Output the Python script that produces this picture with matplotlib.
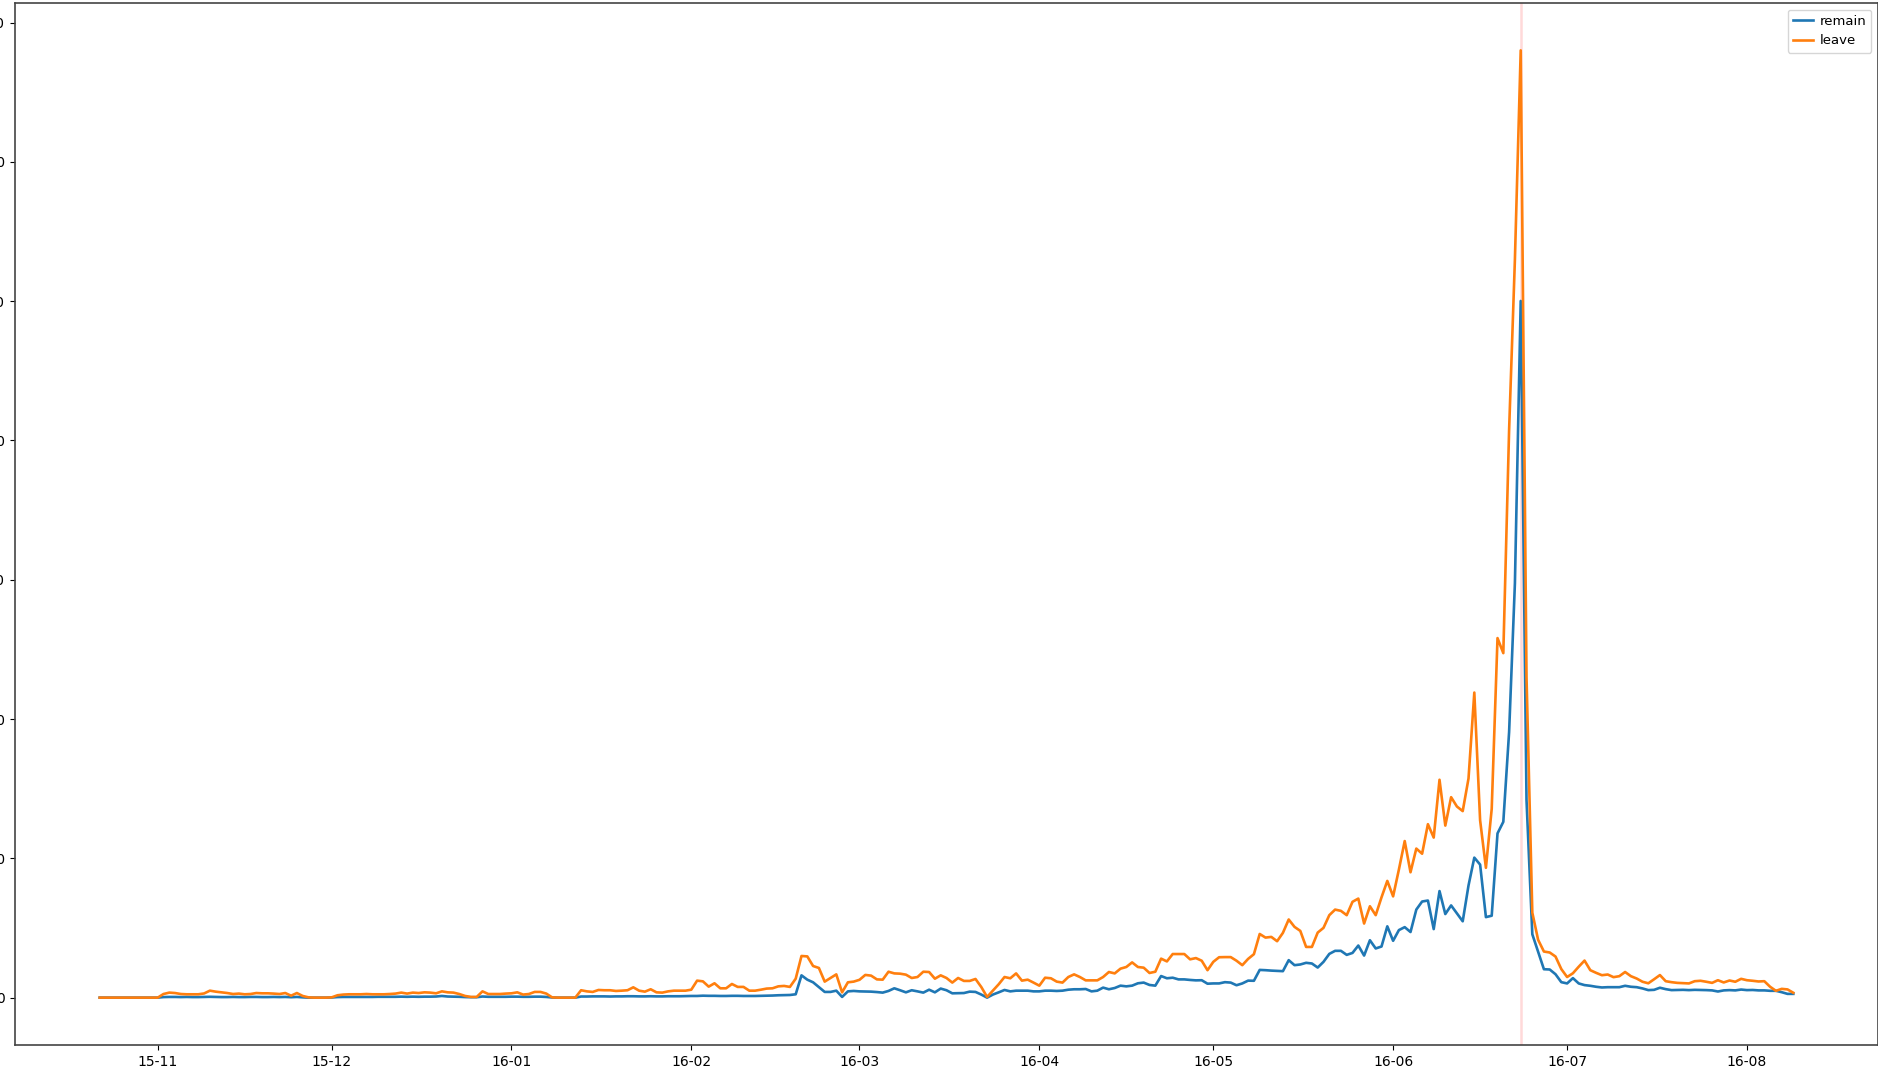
import matplotlib
matplotlib.use('Agg')
import matplotlib.pyplot as plt
import matplotlib.dates as mdates
import pandas as pd

# daily counts, one value per day starting at start_date
start_date = '2015-10-22'
vote_date = '2016-06-23'

remain = [
    0, 0, 0, 0, 0, 0, 0, 0, 0, 0, 0,                      # 22 Oct - 1 Nov
    4, 5, 5, 4, 5, 4, 4, 5, 6, 5, 4, 4, 5, 4, 4, 5, 5, 4, 4, 5, 4, 5, 3, 5, 2,
    0, 0, 0, 0, 1,
    4, 5, 5, 5, 5, 5, 5, 6, 6, 6, 6, 7, 6, 7, 6, 7, 7, 8, 12, 8, 7, 6, 4, 3, 3,
    8, 6, 6, 6, 6, 7, 7, 6, 6, 7, 7, 5,
    1, 0, 0, 0, 0,
    8, 8, 9, 9, 9, 8, 9, 9, 10, 10, 9, 9, 10, 9, 9, 10, 10, 10,
    11, 12, 12, 14, 13, 13, 12, 12, 13, 13, 12, 12, 12, 13, 14, 15, 17, 18, 19,
    24, 160, 129, 110, 76, 41, 41, 50, 5, 45, 48,
    45, 44, 43, 40, 36, 48, 67, 53, 38, 53,
    45, 36, 57, 38, 65, 53, 31, 32, 33, 43,
    41, 22, 0, 22, 38, 55, 45, 50, 50, 50,
    45, 45, 50, 50, 48, 50, 57, 60, 60, 62,
    45, 50, 72, 60, 69, 86, 81, 86, 103, 108,
    91, 86, 155, 139, 143, 131, 131, 127, 124,
    125, 100, 102, 102, 111, 108, 89, 102, 122, 121,
    199, 197, 194, 192, 190, 269, 233, 238, 250, 245,
    216, 257, 314, 336, 336, 307, 321, 374, 302, 412,
    353, 367, 512, 408, 485, 506, 471, 632, 690, 697,
    492, 765, 600, 662, 605, 548, 805, 1005, 955, 578,
    588, 1179, 1262, 1907, 2975, 5001,
    1420, 455, 329, 204, 202, 168, 111, 102, 140, 102,
    90, 85, 78, 73, 75, 75, 75, 85, 78, 75,
    66, 54, 56, 71, 61, 54, 55, 56, 54, 56,
    55, 54, 52, 44, 52, 54, 52, 58, 54, 55,
    52, 52, 49, 49, 39, 27, 27,
]

leave = [
    0, 0, 0, 0, 0, 0, 0, 0, 0, 0, 0,
    26, 36, 33, 26, 24, 24, 24, 30, 50, 43, 38, 33, 26, 29, 24, 26, 33, 31, 31,
    29, 26, 33, 14, 33, 12,
    2, 0, 0, 0, 2,
    17, 22, 24, 24, 24, 26, 24, 24, 24, 26, 29, 36, 29, 36, 33, 38, 36, 31, 45,
    38, 36, 26, 12, 5, 5, 45, 26, 26, 26, 29, 31, 38, 22, 26, 41, 41, 29,
    2, 0, 0, 0, 0,
    53, 45, 41, 55, 53, 53, 48, 50, 53, 74, 50, 43, 60, 38, 36, 45, 50, 50,
    50, 57, 122, 117, 79, 103, 67, 67, 98, 77, 77, 50, 50, 57, 65, 67, 81, 84, 77,
    136, 299, 296, 227, 213, 115, 141, 167, 38, 110, 115,
    128, 163, 158, 131, 129, 186, 174, 172, 165, 141,
    148, 186, 184, 136, 160, 141, 108, 141, 120, 120,
    134, 76, 5, 50, 96, 148, 139, 174, 122, 129,
    108, 86, 143, 139, 115, 108, 148, 167, 148, 124,
    124, 124, 148, 184, 174, 208, 220, 253, 220, 215,
    177, 186, 280, 260, 313, 313, 313, 275, 284,
    265, 197, 257, 290, 291, 291, 265, 233, 278, 312,
    457, 431, 436, 405, 465, 561, 508, 479, 364, 364,
    467, 501, 592, 632, 623, 592, 688, 711, 532, 656,
    592, 720, 838, 727, 920, 1124, 900, 1070, 1033, 1245,
    1149, 1564, 1235, 1439, 1372, 1339, 1573, 2190, 1273, 932,
    1355, 2581, 2473, 4076, 5300, 6800,
    2300, 610, 415, 331, 324, 295, 205, 148, 175, 222,
    266, 197, 178, 161, 166, 147, 154, 184, 154, 137,
    114, 103, 132, 162, 118, 111, 106, 104, 102, 118,
    121, 114, 106, 125, 109, 123, 114, 135, 125, 121,
    116, 118, 78, 49, 63, 59, 35,
]


def main():
    dates = pd.date_range(start_date, periods=len(remain), freq='D')

    fig = plt.figure(figsize=(18.78, 10.8), dpi=100)
    ax = fig.add_axes([15 / 1878, 35 / 1080, 1863 / 1878, 1042 / 1080])

    ax.plot(dates, remain, label='remain', lw=1.9)
    ax.plot(dates, leave, label='leave', lw=1.9)
    ax.axvline(pd.Timestamp(vote_date), color='r', alpha=0.15, lw=1.8, zorder=1)

    ax.xaxis.set_major_locator(mdates.MonthLocator())
    ax.xaxis.set_major_formatter(mdates.DateFormatter('%y-%m'))
    for sp in ax.spines.values():
        sp.set_color('#444444')
        sp.set_linewidth(1.2)
    ax.legend(loc='upper right', handlelength=1.5, handletextpad=0.5, fontsize=9.5)

    fig.savefig('out.png', dpi=100)


if __name__ == "__main__":
    main()
